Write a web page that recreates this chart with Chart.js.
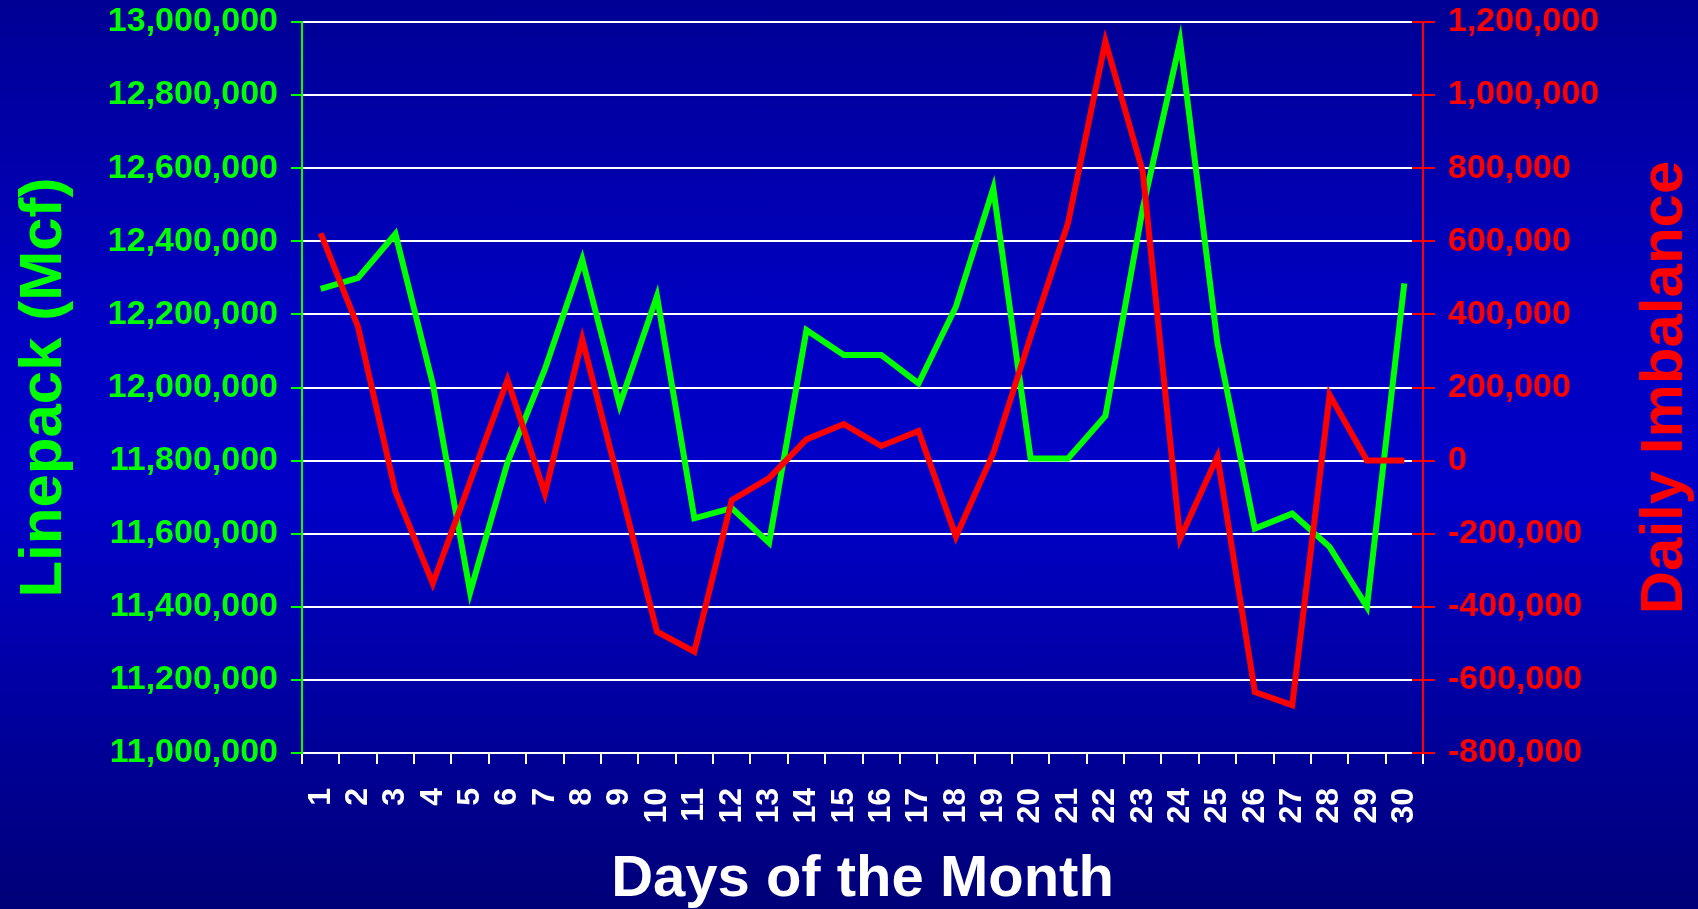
<!DOCTYPE html>
<html>
<head>
<meta charset="utf-8">
<script src="https://cdn.jsdelivr.net/npm/chart.js@4.4.1/dist/chart.umd.min.js"></script>
<style>
  html, body { margin: 0; padding: 0; }
  body {
    width: 1698px; height: 909px; overflow: hidden;
    background: linear-gradient(to bottom, #000094 0%, #0000C2 35%, #0000C8 55%, #000078 100%);
  }
  #grafico { display: block; }
</style>
</head>
<body>
<canvas id="grafico" width="1698" height="909"></canvas>
<script>
// dias del mes (eje x)
const dias = ['1','2','3','4','5','6','7','8','9','10','11','12','13','14','15',
              '16','17','18','19','20','21','22','23','24','25','26','27','28','29','30'];

// Linepack (Mcf) - eje izquierdo
const linepack = [12270000, 12300000, 12420000, 12010000, 11440000, 11795000, 12050000, 12350000,
                  11952000, 12250000, 11642000, 11670000, 11575000, 12157000, 12089000, 12089000,
                  12011000, 12221000, 12545000, 11806000, 11806000, 11922000, 12490000, 12947000,
                  12121000, 11614000, 11655000, 11564000, 11400000, 12285000];

// Daily Imbalance - eje derecho
const imbalance = [622000, 366000, -85000, -336000, -57000, 221000, -90000, 332000,
                   -68000, -468000, -523000, -108000, -48000, 58000, 100000, 40000,
                   81000, -208000, 20000, 340000, 650000, 1147000, 791000, -213000,
                   11000, -633000, -669000, 180000, 0, 0];

// rangos de los ejes
const linepackMin = 11000000, linepackMax = 13000000;
const imbalanceMin = -800000, imbalanceMax = 1200000;
const paso = 200000;

const VERDE = '#00FF00';
const ROJO = '#FF0000';
const BLANCO = '#FFFFFF';
const FUENTE = '"Liberation Sans", Arial, sans-serif';

// el titulo derecho se lee de abajo hacia arriba, Chart.js lo pone al reves
const tituloDerecho = {
    id: 'tituloDerecho',
    afterDraw(chart) {
        const ctx = chart.ctx;
        const area = chart.chartArea;
        ctx.save();
        ctx.translate(chart.width - 16, (area.top + area.bottom) / 2);
        ctx.rotate(-Math.PI / 2);
        ctx.font = 'bold 60px ' + FUENTE;
        ctx.fillStyle = ROJO;
        ctx.textAlign = 'center';
        ctx.textBaseline = 'alphabetic';
        ctx.fillText('Daily Imbalance', 0, 0);
        ctx.restore();
    }
};

// las marcas rojas del eje derecho cruzan el eje hacia dentro
const marcasDentro = {
    id: 'marcasDentro',
    beforeDatasetsDraw(chart) {
        const ctx = chart.ctx;
        const escala = chart.scales.y1;
        const derecha = chart.chartArea.right;
        ctx.save();
        ctx.strokeStyle = ROJO;
        ctx.lineWidth = 2;
        escala.ticks.forEach(t => {
            const y = Math.round(escala.getPixelForValue(t.value));
            ctx.beginPath();
            ctx.moveTo(derecha - 11, y);
            ctx.lineTo(derecha, y);
            ctx.stroke();
        });
        ctx.restore();
    }
};

const formato = v => Number(v).toLocaleString('en-US');

// sin esto chart.js baja el area por la mitad de la etiqueta + padding
function ajusteY(ancho) {
    return scale => {
        scale.width = ancho;
        scale.paddingTop = 0;
        scale.paddingBottom = 0;
    };
}

new Chart(document.getElementById('grafico'), {
    type: 'line',
    data: {
        labels: dias,
        datasets: [{
            label: 'Daily Imbalance',
            data: imbalance,
            yAxisID: 'y1',
            borderColor: ROJO,
            borderWidth: 6,
            pointRadius: 0,
            tension: 0
        }, {
            label: 'Linepack (Mcf)',
            data: linepack,
            yAxisID: 'y',
            borderColor: VERDE,
            borderWidth: 6,
            pointRadius: 0,
            tension: 0
        }]
    },
    options: {
        responsive: false,
        animation: false,
        devicePixelRatio: 1,
        layout: { padding: { top: 22, left: 0, right: 0, bottom: 0 } },
        plugins: {
            legend: { display: false },
            tooltip: { enabled: false }
        },
        scales: {
            x: {
                offset: true,
                grid: {
                    offset: true,
                    drawOnChartArea: false,
                    color: BLANCO,
                    tickLength: 11,
                    lineWidth: 2
                },
                border: { color: BLANCO, width: 2 },
                ticks: {
                    color: BLANCO,
                    font: { family: FUENTE, size: 32, weight: 'bold' },
                    minRotation: 90,
                    maxRotation: 90,
                    autoSkip: false,
                    padding: 24
                },
                title: {
                    display: true,
                    text: 'Days of the Month',
                    color: BLANCO,
                    font: { family: FUENTE, size: 58, weight: 'bold', lineHeight: 1 },
                    padding: 0
                },
                afterFit(scale) { scale.height = 156; }
            },
            y: {
                position: 'left',
                min: linepackMin,
                max: linepackMax,
                grid: {
                    color: BLANCO,
                    tickColor: VERDE,
                    tickLength: 11,
                    lineWidth: 2
                },
                border: { color: VERDE, width: 2 },
                ticks: {
                    stepSize: paso,
                    color: VERDE,
                    font: { family: FUENTE, size: 34, weight: 'bold' },
                    padding: 13,
                    callback: formato
                },
                title: {
                    display: true,
                    text: 'Linepack (Mcf)',
                    color: VERDE,
                    font: { family: FUENTE, size: 60, weight: 'bold', lineHeight: 1 },
                    padding: { top: 14, bottom: 0 }
                },
                afterFit: ajusteY(302)
            },
            y1: {
                position: 'right',
                min: imbalanceMin,
                max: imbalanceMax,
                grid: {
                    drawOnChartArea: false,
                    color: ROJO,
                    tickLength: 12,
                    lineWidth: 2
                },
                border: { color: ROJO, width: 2 },
                ticks: {
                    stepSize: paso,
                    color: ROJO,
                    font: { family: FUENTE, size: 34, weight: 'bold' },
                    padding: 13,
                    callback: formato
                },
                afterFit: ajusteY(275)
            }
        }
    },
    plugins: [tituloDerecho, marcasDentro]
});
</script>
</body>
</html>
